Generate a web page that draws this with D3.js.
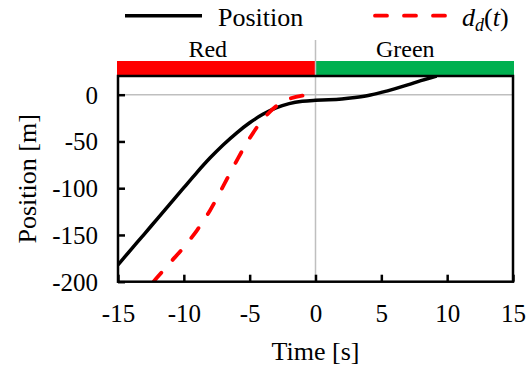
<!DOCTYPE html>
<html><head><meta charset="utf-8">
<script src="https://cdn.jsdelivr.net/npm/d3@7"></script>
<style>
body{margin:0;background:#fff;}
svg{display:block;font-family:"Liberation Serif","Times New Roman",serif;}
</style></head>
<body><svg id="c" width="532" height="366"></svg>
<script>
// ---- data ----
const positionT = [-15,-14,-13,-12,-11,-10,-9,-8,-7,-6,-5,-4,-3,-2,-1,0,1,2,3,4,5,6,7,8,9.2];
const positionY = [-182,-165.5,-149,-132.5,-116,-99.5,-83,-67.5,-53.5,-41,-30,-21,-14,-9.5,-7,-6,-5.5,-4.6,-3,-0.8,2.5,6.3,10.5,15,20];
const desiredT = [-12.3,-12,-11,-10,-9,-8,-7,-6,-5,-4,-3,-2,-1,0];
const desiredY = [-200,-195,-179,-163,-145,-123.5,-97.5,-71,-46.5,-26.5,-12.5,-4.5,-1,0];
const phaseLabels = ["Red","Green"];
const phaseStart = [-15,0];
const phaseEnd = [0,15];
const phaseColors = ["#ff0000","#00b050"];
const xTicks = [-15,-10,-5,0,5,10,15];
const yTicks = [0,-50,-100,-150,-200];

const svg = d3.select("#c");
const L=118, R=513, T=76, B=281.7;
const x = d3.scaleLinear().domain([-15,15]).range([L,R]);
const y = d3.scaleLinear().domain([-200,20]).range([B,T]);

// phase bars
phaseLabels.forEach((lab,i)=>{
  svg.append("rect").attr("x",x(phaseStart[i])-(i===0?1:0)).attr("y",61)
    .attr("width",x(phaseEnd[i])-x(phaseStart[i])+1).attr("height",14.5)
    .attr("fill",phaseColors[i]);
  svg.append("text").attr("x",(x(phaseStart[i])+x(phaseEnd[i]))/2-9).attr("y",57)
    .attr("text-anchor","middle").attr("font-size",24).text(lab);
});

// grid lines
svg.append("line").attr("x1",L).attr("x2",R).attr("y1",y(0)).attr("y2",y(0))
  .attr("stroke","#bfbfbf").attr("stroke-width",1.5);
svg.append("line").attr("x1",x(0)).attr("x2",x(0)).attr("y1",40).attr("y2",B)
  .attr("stroke","#bfbfbf").attr("stroke-width",1.5);

// clip
svg.append("clipPath").attr("id","clip").append("rect")
  .attr("x",L).attr("y",T).attr("width",R-L).attr("height",B-T);

const line = d3.line().x(d=>x(d[0])).y(d=>y(d[1])).curve(d3.curveCatmullRom.alpha(0.5));
const g = svg.append("g").attr("clip-path","url(#clip)");
g.append("path").datum(positionT.map((t,i)=>[t,positionY[i]]))
  .attr("d",line).attr("fill","none").attr("stroke","#000").attr("stroke-width",3.5);
g.append("path").datum(desiredT.map((t,i)=>[t,desiredY[i]]))
  .attr("d",line).attr("fill","none").attr("stroke","#ff0000").attr("stroke-width",3.8)
  .attr("stroke-dasharray","12 17").attr("stroke-linecap","round");

// axes
const fmt = d => String(d);
const xAxis = svg.append("g").attr("transform",`translate(0,${B})`)
  .call(d3.axisBottom(x).tickValues(xTicks).tickSize(-7).tickPadding(14).tickFormat(fmt));
const yAxis = svg.append("g").attr("transform",`translate(${L},0)`)
  .call(d3.axisLeft(y).tickValues(yTicks).tickSize(-7).tickPadding(20).tickFormat(fmt));
[xAxis,yAxis].forEach(a=>{
  a.select(".domain").remove();
  a.selectAll(".tick line").attr("stroke","#000").attr("stroke-width",2.5);
  a.selectAll(".tick text").attr("font-size",25).attr("font-family","Liberation Serif").attr("fill","#000");
});
xAxis.selectAll(".tick text").attr("dy","0.71em").attr("y",23);
yAxis.selectAll(".tick text").attr("dy","0.34em");

// frame
svg.append("rect").attr("x",L).attr("y",T).attr("width",R-L).attr("height",B-T)
  .attr("fill","none").attr("stroke","#000").attr("stroke-width",2.5);

// titles
svg.append("text").attr("x",(L+R)/2).attr("y",360).attr("text-anchor","middle")
  .attr("font-size",26).text("Time [s]");
svg.append("text").attr("transform",`translate(36,${(T+B)/2}) rotate(-90)`)
  .attr("text-anchor","middle").attr("font-size",26).text("Position [m]");

// legend
svg.append("line").attr("x1",125).attr("x2",202).attr("y1",15.7).attr("y2",15.7)
  .attr("stroke","#000").attr("stroke-width",3.5);
svg.append("text").attr("x",218).attr("y",26).attr("font-size",26).text("Position");
svg.append("line").attr("x1",375).attr("x2",447).attr("y1",15.7).attr("y2",15.7)
  .attr("stroke","#ff0000").attr("stroke-width",3.8)
  .attr("stroke-dasharray","12 17").attr("stroke-linecap","round");
const lt = svg.append("text").attr("x",462).attr("y",26).attr("font-size",26);
lt.append("tspan").attr("font-style","italic").text("d");
lt.append("tspan").attr("font-style","italic").attr("font-size",18).attr("dy",5).text("d");
lt.append("tspan").attr("dy",-5).text("(");
lt.append("tspan").attr("font-style","italic").text("t");
lt.append("tspan").text(")");
</script></body></html>
